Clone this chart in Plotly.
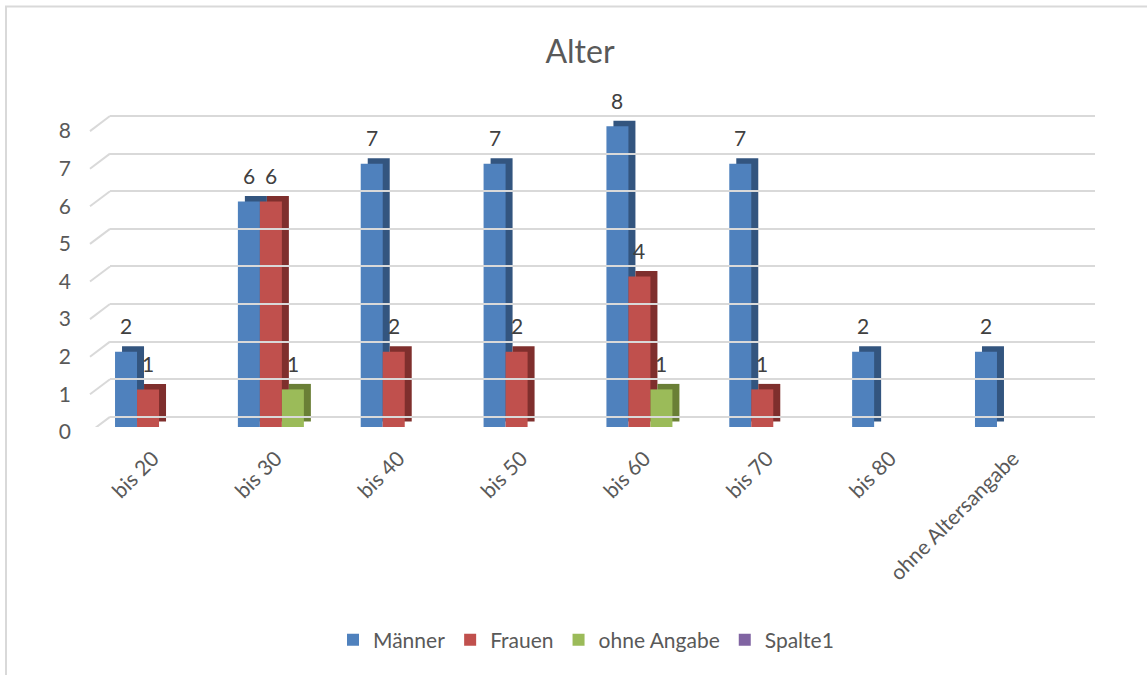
import plotly.graph_objects as go

W, H = 1147, 675

categories = ["bis 20", "bis 30", "bis 40", "bis 50", "bis 60", "bis 70", "bis 80", "ohne Altersangabe"]
series_names = ["Männer", "Frauen", "ohne Angabe", "Spalte1"]
maenner = [2, 6, 7, 7, 8, 7, 2, 2]
frauen = [1, 6, 2, 2, 4, 1, None, None]
ohne_angabe = [None, 1, None, None, 1, None, None, None]
spalte1 = [None, None, None, None, None, None, None, None]
y_ticks = [0, 1, 2, 3, 4, 5, 6, 7, 8]

series_values = [maenner, frauen, ohne_angabe, spalte1]
front_colors = ["#4F81BD", "#C0504D", "#9BBB59", "#8064A2"]
side_colors = ["#33557F", "#7F2F2D", "#6A7F36", "#5A4777"]

FONT = "Lato, 'Open Sans', sans-serif"
TXT = "#595959"

# geometry (pixels -> paper)
x0_px, x1_px = 97.6, 1080.4
ybase_px, unit_px = 427.0, 37.6
yr = 8.5
ytop_px = ybase_px - yr * unit_px
cat_px = (x1_px - x0_px) / len(categories)
w = 22.0 / cat_px            # bar width in category units
dx = 7.0 / cat_px            # depth (x)
dy = 5.5 / unit_px           # depth (y)
back_shift = 0.27            # back wall offset (y units)
label_shift = 0.13           # front wall label offset

ydom = [1 - ybase_px / H, 1 - ytop_px / H]
# label axis: same scale, shifted down by label_shift, extended below so 0 is inside
lab_r0 = -0.3
lab_bottom_px = ybase_px + (label_shift - lab_r0) * unit_px
ydom3 = [1 - lab_bottom_px / H, 1 - ytop_px / H]
idx = list(range(len(categories)))

fig = go.Figure()

# depth (side/top faces)
for k, vals in enumerate(series_values):
    fig.add_trace(go.Bar(
        x=idx, y=vals, base=dy, offset=(k - 2) * w + dx, width=w,
        marker=dict(color=side_colors[k], line=dict(width=0)),
        showlegend=False, hoverinfo="skip",
    ))
# front faces
for k, vals in enumerate(series_values):
    fig.add_trace(go.Bar(
        x=idx, y=vals, offset=(k - 2) * w, width=w, name=series_names[k],
        marker=dict(color=front_colors[k], line=dict(width=0)),
    ))

# invisible helpers for back-wall grid and label axis
fig.add_trace(go.Scatter(x=[0.5], y=[0], xaxis="x2", yaxis="y2", mode="markers",
                         marker=dict(opacity=0), showlegend=False, hoverinfo="skip"))
fig.add_trace(go.Scatter(x=[0], y=[0], xaxis="x", yaxis="y3", mode="markers",
                         marker=dict(opacity=0), showlegend=False, hoverinfo="skip"))

annotations = []
for k, vals in enumerate(series_values):
    for i, v in enumerate(vals):
        if v is None:
            continue
        annotations.append(dict(
            x=i + (k - 2) * w + w / 2, y=v, xref="x", yref="y", yshift=26,
            text=str(v), showarrow=False,
            font=dict(family=FONT, size=21, color="#404040"),
        ))

shapes = []
# left wall diagonals
for t in y_ticks:
    shapes.append(dict(type="line", xref="paper", yref="y",
                       x0=90 / W, y0=t - label_shift, x1=110 / W, y1=t + back_shift,
                       line=dict(color="#D9D9D9", width=2), layer="below"))
# chart border
shapes.append(dict(type="line", xref="paper", yref="paper", x0=5 / W, x1=1, y0=1 - 6.5 / H, y1=1 - 6.5 / H,
                   line=dict(color="#D9D9D9", width=2)))
shapes.append(dict(type="line", xref="paper", yref="paper", x0=6 / W, x1=6 / W, y0=0, y1=1 - 6 / H,
                   line=dict(color="#D9D9D9", width=2)))

fig.update_layout(
    width=W, height=H,
    margin=dict(l=0, r=0, t=0, b=0),
    paper_bgcolor="white", plot_bgcolor="rgba(0,0,0,0)",
    barmode="overlay",
    font=dict(family=FONT, color=TXT),
    title=dict(text="Alter", x=580 / W, y=1 - 52 / H, xanchor="center", yanchor="middle",
               xref="paper", yref="paper", font=dict(family=FONT, size=32, color=TXT)),
    xaxis=dict(domain=[x0_px / W, x1_px / W], range=[-0.5, len(categories) - 0.5],
               tickvals=idx, ticktext=categories, tickangle=-45,
               ticks="outside", ticklen=10, tickcolor="rgba(0,0,0,0)", ticklabelshift=-6,
               showgrid=False, zeroline=False, showline=False,
               tickfont=dict(family=FONT, size=21, color=TXT), automargin=False, fixedrange=True),
    yaxis=dict(domain=ydom, range=[0, yr], showgrid=False, zeroline=False,
               showticklabels=False, showline=False, automargin=False, fixedrange=True),
    xaxis2=dict(domain=[110 / W, 1095 / W], range=[0, 1], anchor="y2", visible=False, fixedrange=True),
    yaxis2=dict(domain=ydom, range=[-back_shift, yr - back_shift], anchor="x2",
                tickvals=y_ticks, showticklabels=False, showgrid=True,
                gridcolor="#D9D9D9", gridwidth=2, zeroline=True, zerolinecolor="#D9D9D9",
                zerolinewidth=2, showline=False, automargin=False, fixedrange=True),
    yaxis3=dict(domain=ydom3, range=[lab_r0, yr + label_shift], anchor="free",
                position=71 / W, side="left",
                tickvals=y_ticks, showgrid=False, zeroline=False, showline=False,
                ticks="", tickfont=dict(family=FONT, size=21, color=TXT),
                automargin=False, fixedrange=True),
    legend=dict(orientation="h", x=586 / W, y=1 - 640 / H, xanchor="center", yanchor="middle",
                font=dict(family=FONT, size=21, color=TXT), traceorder="normal", itemwidth=30,
                itemclick=False, itemdoubleclick=False),
    annotations=annotations,
    shapes=shapes,
    showlegend=True,
)

fig.write_html("out.html")
